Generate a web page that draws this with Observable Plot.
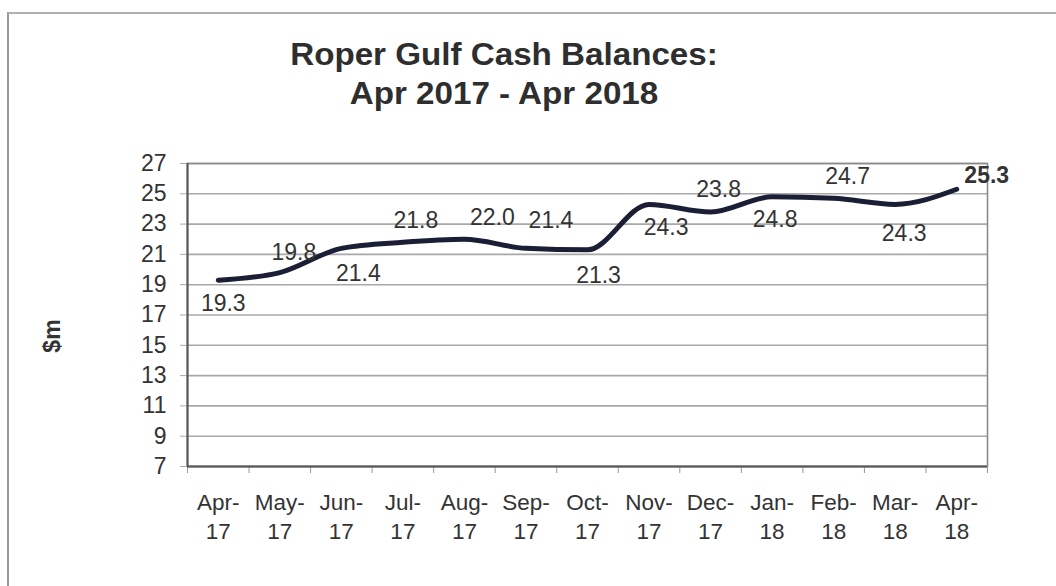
<!DOCTYPE html>
<html>
<head>
<meta charset="utf-8">
<script src="https://cdn.jsdelivr.net/npm/d3@7"></script>
<script src="https://cdn.jsdelivr.net/npm/@observablehq/plot@0.6"></script>
<style>
  html, body { margin: 0; padding: 0; background: #fff; }
  #page { position: relative; width: 1056px; height: 586px; overflow: hidden; font-family: "Liberation Sans", Arial, sans-serif; }
  #border { position: absolute; left: 7px; top: 12px; width: 1060px; height: 600px; border-left: 2px solid #9a9a9a; border-top: 2px solid #b0b0b0; }
  #title { position: absolute; left: 0; top: 35px; width: 1008px; text-align: center; font-weight: bold; font-size: 31px; line-height: 39px; color: #2e2e2e; transform: scaleX(1.07); transform-origin: 504px 0; }
  #ylabel { position: absolute; left: 52px; top: 336px; transform: translate(-50%, -50%) rotate(-90deg); font-weight: bold; font-size: 23px; color: #333; white-space: nowrap; }
  #chart { position: absolute; left: 0; top: 0; }
</style>
</head>
<body>
<div id="page">
  <div id="border"></div>
  <div id="chart"></div>
  <div id="title">Roper Gulf Cash Balances:<br>Apr 2017 - Apr 2018</div>
  <div id="ylabel">$m</div>
</div>
<script>
const months = ["Apr", "May", "Jun", "Jul", "Aug", "Sep", "Oct", "Nov", "Dec", "Jan", "Feb", "Mar", "Apr"];
const years = ["17", "17", "17", "17", "17", "17", "17", "17", "17", "18", "18", "18", "18"];
const balances = [19.3, 19.8, 21.4, 21.8, 22.0, 21.4, 21.3, 24.3, 23.8, 24.8, 24.7, 24.3, 25.3];
const valueLabels = ["19.3", "19.8", "21.4", "21.8", "22.0", "21.4", "21.3", "24.3", "23.8", "24.8", "24.7", "24.3", "25.3"];
const yTicks = [7, 9, 11, 13, 15, 17, 19, 21, 23, 25, 27];

// label placement (pixel offsets from each point), layout only
const labelOffsets = [[5, 23], [14, -20], [17, 25], [13, -22], [28, -22], [25, -28], [11, 26], [17, 23], [8, -22], [3, 23], [14, -22], [9, 29], [30, -14]];

const idx = d3.range(months.length);
const boundaries = d3.range(months.length + 1).map(i => i - 0.5);

const labelMarks = idx.map(i => Plot.text([i], {
  x: d => d,
  y: d => balances[d],
  text: d => valueLabels[d],
  dx: labelOffsets[i][0],
  dy: labelOffsets[i][1],
  fontSize: 23,
  fontWeight: i === idx.length - 1 ? "bold" : "normal",
  fill: "#333",
  lineAnchor: "middle"
}));

const chart = Plot.plot({
  width: 1056,
  height: 586,
  marginTop: 163,
  marginBottom: 120,
  marginLeft: 187,
  marginRight: 69,
  style: { fontFamily: "'Liberation Sans', Arial, sans-serif", background: "transparent", color: "#333" },
  x: { type: "linear", domain: [-0.5, 12.5] },
  y: { domain: [7, 27] },
  marks: [
    Plot.gridY(yTicks, { stroke: "#a8a8a8", strokeOpacity: 1, strokeWidth: 1.6 }),
    Plot.frame({ stroke: "#8a8a8a", strokeWidth: 1.6 }),
    Plot.axisY({ ticks: yTicks, tickSize: 7, tickPadding: 14, fontSize: 23, stroke: "#a8a8a8", label: null, tickFormat: d => String(d) }),
    Plot.axisX({ ticks: boundaries, tickSize: 7, tickFormat: () => "", stroke: "#999", label: null }),
    Plot.axisX({ ticks: idx, tickSize: 0, tickPadding: 22, fontSize: 22.5, lineHeight: 1.32, label: null,
      tickFormat: i => months[i] + "-\n" + years[i] }),
    Plot.ruleX([-0.5], { stroke: "#555", strokeWidth: 2 }),
    Plot.ruleY([7], { stroke: "#555", strokeWidth: 2 }),
    Plot.line(idx, { x: d => d, y: d => balances[d], curve: "monotone-x", stroke: "#1b1f36", strokeWidth: 5, strokeLinecap: "round", strokeLinejoin: "round" }),
    ...labelMarks
  ]
});
document.getElementById("chart").appendChild(chart);
</script>
</body>
</html>
